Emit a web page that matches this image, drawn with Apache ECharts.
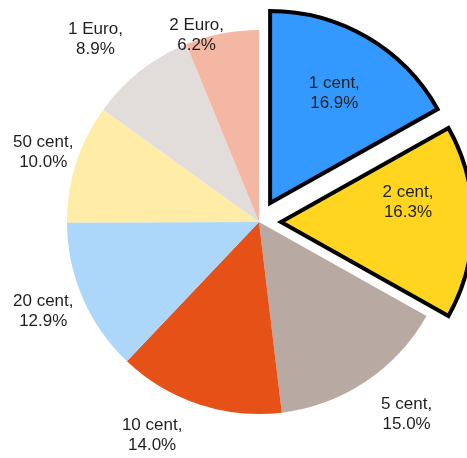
<!DOCTYPE html>
<html>
<head>
<meta charset="utf-8">
<script src="https://cdn.jsdelivr.net/npm/echarts@6/dist/echarts.min.js"></script>
<style>
    html, body { margin: 0; padding: 0; background: #fff; }
    #main { width: 467px; height: 458px; }
</style>
</head>
<body>
<div id="main"></div>
<script>
// share of euro coins in circulation (percent)
var coins = ['1 cent', '2 cent', '5 cent', '10 cent', '20 cent', '50 cent', '1 Euro', '2 Euro'];
var shares = [16.9, 16.3, 15.0, 14.0, 12.9, 10.0, 8.9, 6.2];
var pulledOut = ['1 cent', '2 cent'];

var colors = ['#3399ff', '#ffd520', '#b8a9a2', '#e65118', '#add7fa', '#ffeca6', '#e2dddb', '#f4b7a3'];
var pieCenter = [259, 222];

// small nudges so labels sit like the original "best fit" placement
var nudge = {
    '2 cent': [0, -20],
    '5 cent': [17, -3],
    '10 cent': [-33, -10],
    '20 cent': [0, -4],
    '50 cent': [8, 2],
    '1 Euro': [-18, 2],
    '2 Euro': [-17, 44]
};

function fmt(p) {
    return p.name + ',\n' + p.value.toFixed(1) + '%';
}

function isOut(name) {
    return pulledOut.indexOf(name) >= 0;
}

var myChart = echarts.init(document.getElementById('main'));

var pieData = coins.map(function (name, i) {
    var item = {
        name: name,
        value: shares[i],
        itemStyle: { color: colors[i], borderWidth: 0 }
    };
    if (isOut(name)) {
        item.selected = true;
        item.itemStyle.borderColor = '#000';
        item.itemStyle.borderWidth = 4;
        item.itemStyle.borderJoin = 'miter';
    }
    return item;
});

// invisible pie used only to place labels at a chosen radius
function labelPie(radius, showFor, selected) {
    return {
        type: 'pie',
        silent: true,
        center: pieCenter,
        radius: radius,
        startAngle: 90,
        selectedMode: selected ? 'multiple' : false,
        selectedOffset: 22,
        emphasis: { disabled: true },
        itemStyle: { color: 'rgba(0,0,0,0)', borderWidth: 0 },
        labelLine: { show: false },
        label: {
            show: true,
            position: 'inside',
            formatter: fmt,
            color: '#1f1f1f',
            fontFamily: 'Liberation Sans, Arial, sans-serif',
            fontSize: 17,
            lineHeight: 20
        },
        labelLayout: function (p) {
            var n = nudge[coins[p.dataIndex]];
            return n ? { dx: n[0], dy: n[1] } : {};
        },
        data: coins.map(function (name, i) {
            return {
                name: name,
                value: shares[i],
                selected: selected && isOut(name),
                label: { show: showFor(name) }
            };
        })
    };
}

var option = {
    animation: false,
    series: [
        {
            type: 'pie',
            center: pieCenter,
            radius: 192,
            startAngle: 90,
            selectedMode: 'multiple',
            selectedOffset: 22,
            emphasis: { disabled: true },
            select: { itemStyle: { borderColor: '#000', borderWidth: 4 } },
            label: { show: false },
            labelLine: { show: false },
            data: pieData
        },
        labelPie(248, function (n) { return isOut(n); }, true),
        labelPie(464, function (n) { return !isOut(n); }, false)
    ]
};

myChart.setOption(option);
</script>
</body>
</html>
